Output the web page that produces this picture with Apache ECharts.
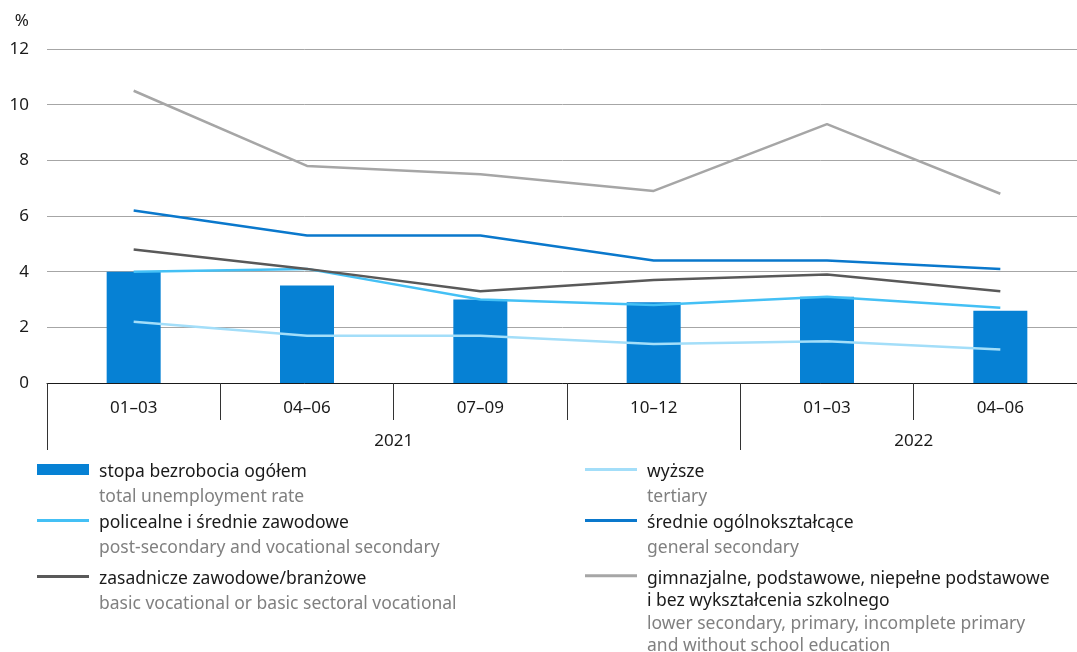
<!DOCTYPE html>
<html>
<head>
<meta charset="utf-8">
<script src="https://cdn.jsdelivr.net/npm/echarts@6/dist/echarts.min.js"></script>
<style>html,body{margin:0;padding:0;background:#fff}#c{width:1077px;height:652px}</style>
</head>
<body>
<div id="c"></div>
<script>
const categories = ['01–03', '04–06', '07–09', '10–12', '01–03', '04–06'];
const years = ['2021', '2022'];
const yearSpans = [4, 2];
const yTicks = [0, 2, 4, 6, 8, 10, 12];

const totalRate = [4.0, 3.5, 3.0, 2.9, 3.1, 2.6];
const postSecondary = [4.0, 4.1, 3.0, 2.8, 3.1, 2.7];
const basicVocational = [4.8, 4.1, 3.3, 3.7, 3.9, 3.3];
const tertiary = [2.2, 1.7, 1.7, 1.4, 1.5, 1.2];
const generalSecondary = [6.2, 5.3, 5.3, 4.4, 4.4, 4.1];
const lowerSecondary = [10.5, 7.8, 7.5, 6.9, 9.3, 6.8];

const names = {
  total: 'stopa bezrobocia ogółem',
  post: 'policealne i średnie zawodowe',
  basic: 'zasadnicze zawodowe/branżowe',
  tert: 'wyższe',
  gen: 'średnie ogólnokształcące',
  low: 'gimnazjalne, podstawowe, niepełne podstawowe'
};
const polishLabels = {
  [names.total]: ['stopa bezrobocia ogółem'],
  [names.post]: ['policealne i średnie zawodowe'],
  [names.basic]: ['zasadnicze zawodowe/branżowe'],
  [names.tert]: ['wyższe'],
  [names.gen]: ['średnie ogólnokształcące'],
  [names.low]: ['gimnazjalne, podstawowe, niepełne podstawowe', 'i bez wykształcenia szkolnego']
};
const englishLabels = {
  [names.total]: ['total unemployment rate'],
  [names.post]: ['post-secondary and vocational secondary'],
  [names.basic]: ['basic vocational or basic sectoral vocational'],
  [names.tert]: ['tertiary'],
  [names.gen]: ['general secondary'],
  [names.low]: ['lower secondary, primary, incomplete primary', 'and without school education']
};

const FONT = 'Noto Sans';
const LFS = 17.5;

// year tick/label positions derived from spans
const yearTickPos = [];
const yearLabelPos = [];
let acc = 0;
yearSpans.forEach(function (s) { yearTickPos.push(acc); yearLabelPos.push(acc + s / 2); acc += s; });

function legendFor(name, left, top, isBar, lh) {
  const nLines = polishLabels[name].length + englishLabels[name].length;
  const padTop = (nLines - 1) * lh + 6;
  return {
    data: [name],
    left: left,
    top: top,
    padding: 0,
    itemWidth: 52,
    itemHeight: isBar ? 11 : 3,
    icon: 'rect',
    orient: 'vertical',
    selectedMode: false,
    formatter: function (n) {
      const pl = polishLabels[n].map(function (t) { return '{pl|' + t + '}'; });
      const en = englishLabels[n].map(function (t) { return '{en|' + t + '}'; });
      return pl.concat(en).join('\n');
    },
    textStyle: {
      fontFamily: FONT,
      padding: [padTop, 0, 0, 5],
      lineHeight: lh,
      rich: {
        pl: { fontFamily: FONT, fontSize: LFS, color: '#1a1a1a', lineHeight: lh },
        en: { fontFamily: FONT, fontSize: LFS, color: '#808080', lineHeight: lh }
      }
    }
  };
}

const chart = echarts.init(document.getElementById('c'), null, { renderer: 'canvas' });
chart.setOption({
  animation: false,
  textStyle: { fontFamily: FONT },
  grid: { left: 47, width: 1040, top: 49, bottom: 269, containLabel: false, outerBoundsMode: 'none' },
  legend: [
    legendFor(names.total, 37, 429, true, 25),
    legendFor(names.post, 37, 480, false, 25),
    legendFor(names.basic, 37, 536, false, 25),
    legendFor(names.tert, 585, 429, false, 25),
    legendFor(names.gen, 585, 480, false, 25),
    legendFor(names.low, 585, 494, false, 22.5)
  ],
  xAxis: [
    {
      type: 'category',
      data: categories,
      position: 'bottom',
      axisLine: { lineStyle: { color: '#1a1a1a', width: 1 } },
      axisTick: { show: true, interval: 0, length: 37, lineStyle: { color: '#333', width: 1 } },
      axisLabel: { interval: 0, margin: 17, fontSize: 17, color: '#1a1a1a', fontFamily: FONT },
      splitLine: { show: false }
    },
    {
      type: 'value',
      min: 0,
      max: categories.length,
      position: 'bottom',
      offset: 0,
      axisLine: { show: false },
      splitLine: { show: false },
      axisTick: { show: true, customValues: yearTickPos, length: 67, lineStyle: { color: '#333', width: 1 } },
      axisLabel: {
        customValues: yearLabelPos,
        margin: 50,
        fontSize: 17,
        color: '#1a1a1a',
        fontFamily: FONT,
        formatter: function (v) { const i = yearLabelPos.indexOf(v); return i >= 0 ? years[i] : ''; }
      }
    }
  ],
  yAxis: {
    type: 'value',
    min: yTicks[0],
    max: yTicks[yTicks.length - 1],
    interval: 2,
    name: '%',
    nameLocation: 'end',
    nameGap: 19,
    nameTextStyle: { align: 'right', padding: [0, 18, 0, 0], fontSize: 17, color: '#1a1a1a', fontFamily: FONT },
    axisLine: { show: false },
    axisTick: { show: false },
    axisLabel: { margin: 18, fontSize: 17, color: '#1a1a1a', fontFamily: FONT },
    splitLine: { lineStyle: { color: '#a6a6a6', width: 1 } }
  },
  series: [
    { name: names.total, type: 'bar', data: totalRate, barWidth: 54, itemStyle: { color: '#0681d4' }, z: 1 },
    { name: names.post, type: 'line', data: postSecondary, symbol: 'none', lineStyle: { color: '#44c0f5', width: 2.5 }, itemStyle: { color: '#44c0f5' }, z: 3 },
    { name: names.basic, type: 'line', data: basicVocational, symbol: 'none', lineStyle: { color: '#595959', width: 2.5 }, itemStyle: { color: '#595959' }, z: 3 },
    { name: names.tert, type: 'line', data: tertiary, symbol: 'none', lineStyle: { color: '#a3def9', width: 2.5 }, itemStyle: { color: '#a3def9' }, z: 3 },
    { name: names.gen, type: 'line', data: generalSecondary, symbol: 'none', lineStyle: { color: '#0a78cc', width: 2.5 }, itemStyle: { color: '#0a78cc' }, z: 3 },
    { name: names.low, type: 'line', data: lowerSecondary, symbol: 'none', lineStyle: { color: '#a6a6a6', width: 2.5 }, itemStyle: { color: '#a6a6a6' }, z: 3 }
  ]
});
</script>
</body>
</html>
